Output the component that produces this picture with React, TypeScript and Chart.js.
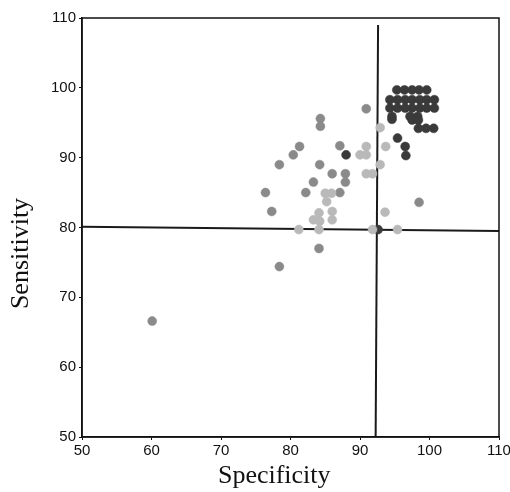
import React, { useEffect, useRef } from "react";
import { Chart, registerables } from "chart.js";

Chart.register(...registerables);

const xTitle = "Specificity";
const yTitle = "Sensitivity";
const axisMin = 50;
const axisMax = 110;
const tickStep = 10;

// Dark (near black) points
const darkPoints: [number, number][] = [
  [88.0, 90.4], [92.6, 79.7], [94.6, 95.5], [95.4, 92.8], [96.5, 91.6], [96.6, 90.3],
  [95.3, 99.7], [96.4, 99.7], [97.5, 99.7], [98.5, 99.7], [99.6, 99.7],
  [94.3, 98.3], [95.4, 98.3], [96.5, 98.3], [97.5, 98.3], [98.6, 98.3], [99.6, 98.3], [100.7, 98.3],
  [94.3, 97.1], [95.4, 97.1], [96.5, 97.1], [97.5, 97.1], [98.6, 97.1], [99.6, 97.1], [100.7, 97.1],
  [94.6, 95.9], [97.2, 95.9], [98.3, 95.9],
  [97.5, 95.4], [98.4, 95.4],
  [98.4, 94.2], [99.5, 94.2], [100.6, 94.2],
];

// Medium grey points
const mediumPoints: [number, number][] = [
  [60.1, 66.6], [78.4, 74.4], [84.1, 77.0], [77.3, 82.3], [76.4, 85.0], [78.4, 89.0],
  [80.4, 90.4], [81.3, 91.6], [82.2, 85.0], [83.3, 86.5], [84.2, 89.0], [86.0, 87.7],
  [87.1, 91.7], [87.9, 87.7], [87.9, 86.5], [87.1, 85.0], [90.9, 97.0], [98.5, 83.6],
  [84.3, 95.6], [84.3, 94.5],
];

// Light grey points
const lightPoints: [number, number][] = [
  [85.0, 84.9], [85.9, 84.9], [85.2, 83.7], [84.1, 82.1], [83.3, 81.1], [84.2, 80.9],
  [86.0, 82.3], [86.0, 81.1], [84.1, 79.7], [81.2, 79.7], [90.0, 90.4], [90.9, 91.6],
  [90.9, 90.4], [90.9, 87.7], [91.8, 87.7], [92.9, 94.3], [92.9, 89.0], [93.7, 91.6],
  [93.6, 82.2], [95.4, 79.7], [91.8, 79.7],
];

// Cut-off reference lines
const hLine: [number, number][] = [[50, 80.1], [110, 79.5]];
const vLine: [number, number][] = [[92.6, 109], [92.25, 50]];

const toXY = (arr: [number, number][]) => arr.map(([x, y]) => ({ x, y }));

const framePlugin = {
  id: "frame",
  afterDatasetsDraw(chart: any) {
    const { ctx, chartArea } = chart;
    ctx.save();
    ctx.strokeStyle = "#111";
    ctx.lineWidth = 1.5;
    ctx.strokeRect(chartArea.left, chartArea.top, chartArea.right - chartArea.left, chartArea.bottom - chartArea.top);
    ctx.restore();
  },
};

export default function App() {
  const ref = useRef<HTMLCanvasElement | null>(null);
  useEffect(() => {
    if (!ref.current) return;
    const tickFont = { family: "'Liberation Sans', Arial, sans-serif", size: 15 };
    const titleFont = { family: "'Liberation Serif', 'Times New Roman', serif", size: 26 };
    const pt = (color: string) => ({
      type: "scatter" as const,
      backgroundColor: color,
      borderColor: color,
      pointRadius: 4.5,
      pointBorderWidth: 0.5,
      order: 1,
    });
    const chart = new Chart(ref.current, {
      type: "scatter",
      data: {
        datasets: [
          { ...pt("#b9b9b9"), label: "light", data: toXY(lightPoints) },
          { ...pt("#8a8a8a"), label: "medium", data: toXY(mediumPoints) },
          { ...pt("#3a3a3a"), label: "dark", data: toXY(darkPoints) },
          {
            type: "line" as const, label: "h", data: toXY(hLine), borderColor: "#1a1a1a",
            borderWidth: 2, pointRadius: 0, showLine: true, order: 10,
          },
          {
            type: "line" as const, label: "v", data: toXY(vLine), borderColor: "#1a1a1a",
            borderWidth: 2, pointRadius: 0, showLine: true, order: 10,
          },
        ] as any,
      },
      options: {
        responsive: false,
        animation: false,
        layout: { padding: { top: 18, right: 11, left: 0, bottom: 0 } },
        plugins: { legend: { display: false }, tooltip: { enabled: false } },
        scales: {
          x: {
            type: "linear",
            min: axisMin,
            max: axisMax,
            ticks: { stepSize: tickStep, font: tickFont, color: "#111", padding: 2, maxRotation: 0 },
            grid: { display: true, drawOnChartArea: false, tickLength: 3, color: "#111" },
            border: { display: true, color: "#111", width: 1.5 },
            title: { display: true, text: xTitle + "     ", font: titleFont, color: "#111", padding: { top: 0, bottom: 0 } },
            afterFit: (s: any) => { s.height = 55; s.paddingLeft = 0; s.paddingRight = 0; },
          },
          y: {
            type: "linear",
            min: axisMin,
            max: axisMax,
            ticks: { stepSize: tickStep, font: tickFont, color: "#111", padding: 3 },
            grid: { display: true, drawOnChartArea: false, tickLength: 3, color: "#111" },
            border: { display: true, color: "#111", width: 1.5 },
            title: { display: true, text: yTitle + "        ", font: titleFont, color: "#111", padding: { top: 6, bottom: 0 } },
            afterFit: (s: any) => { s.width = 82; s.paddingTop = 0; s.paddingBottom = 0; },
          },
        },
      } as any,
      plugins: [framePlugin],
    });
    return () => chart.destroy();
  }, []);
  return (
    <div style={{ position: "fixed", left: 0, top: 0, width: 510, height: 492, background: "#fff" }}>
      <canvas ref={ref} width={510} height={492} />
    </div>
  );
}
